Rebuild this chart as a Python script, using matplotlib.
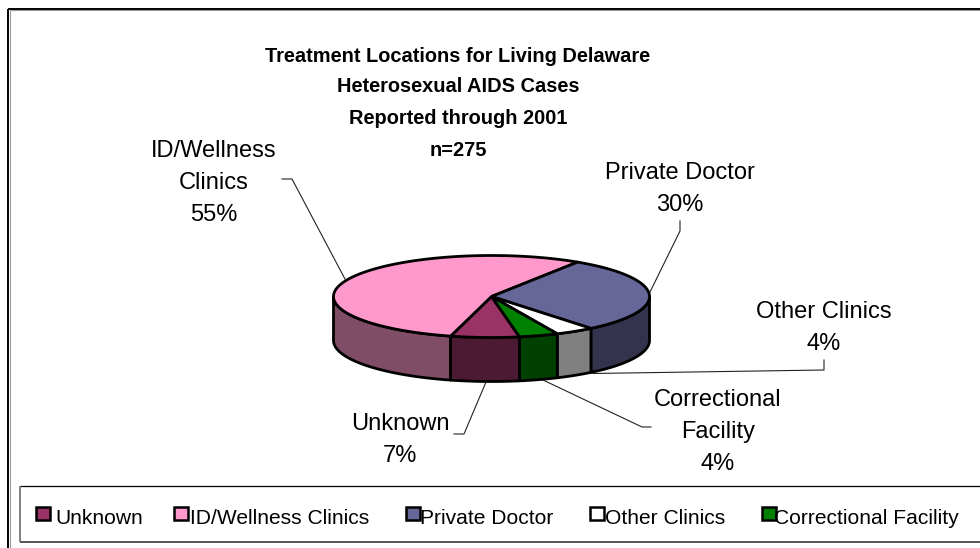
import numpy as np
import matplotlib
matplotlib.use("Agg")
import matplotlib.pyplot as plt
from matplotlib.patches import Polygon, Rectangle

plt.rcParams['font.family'] = ['Liberation Sans', 'DejaVu Sans']

categories = ["Unknown", "ID/Wellness Clinics", "Private Doctor", "Other Clinics", "Correctional Facility"]
values = [7, 55, 30, 4, 4]
top_colors = ["#993366", "#FF99CC", "#666699", "#FFFFFF", "#008000"]
side_colors = ["#4D1A33", "#804D66", "#33334D", "#808080", "#004000"]
title_lines = ["Treatment Locations for Living Delaware", "Heterosexual AIDS Cases", "Reported through 2001", "n=275"]

W, H = 980, 548
fig = plt.figure(figsize=(W / 100, H / 100), dpi=100)
ax = fig.add_axes([0, 0, 1, 1])
ax.set_xlim(0, W)
ax.set_ylim(H, 0)
ax.axis("off")

# Frame
ax.plot([8, 8], [H, 8.5], color="black", lw=1.4, solid_capstyle="butt")
ax.plot([8, W], [8.5, 8.5], color="black", lw=1.4, solid_capstyle="butt")
ax.plot([9.7, 9.7], [H, 10.2], color="#999999", lw=0.8, solid_capstyle="butt")
ax.plot([9.7, W], [10.2, 10.2], color="#999999", lw=0.8, solid_capstyle="butt")

# Pie geometry
cx, cy, a, b, depth = 491.5, 296.5, 158, 41, 44
start = 10.2


def pt(theta, dy=0.0):
    """theta measured clockwise from the bottom of the ellipse, degrees"""
    t = np.radians(theta)
    return np.column_stack([cx - a * np.sin(t), cy + b * np.cos(t) + dy])


fractions = np.array(values) / sum(values) * 360
edges = -start + np.concatenate([[0], np.cumsum(fractions)])

# Side walls (front half only), drawn back to front
order = []
for i in range(len(values)):
    t0, t1 = edges[i], edges[i + 1]
    for shift in (0, -360):
        lo, hi = max(t0 + shift, -90), min(t1 + shift, 90)
        if hi > lo:
            order.append((abs((lo + hi) / 2), i, lo, hi))
for _, i, lo, hi in sorted(order, reverse=True):
    th = np.linspace(lo, hi, 80)
    poly = np.vstack([pt(th), pt(th[::-1], depth)])
    ax.add_patch(Polygon(poly, closed=True, fc=side_colors[i], ec="black", lw=2.0, joinstyle="round", zorder=2))

# Top face
for i in range(len(values)):
    th = np.linspace(edges[i], edges[i + 1], 160)
    poly = np.vstack([[cx, cy], pt(th)])
    ax.add_patch(Polygon(poly, closed=True, fc=top_colors[i], ec="black", lw=2.0, joinstyle="miter", zorder=3))

# Title
for line, y in zip(title_lines, [56, 87, 118, 150]):
    ax.text(458, y, line, ha="center", va="center", fontsize=14.4, fontweight="bold", color="black")

# Data labels
label_fs = 17
labels = [
    ("ID/Wellness\nClinics\n55%", 214, 183),
    ("Private Doctor\n30%", 680, 189),
    ("Other Clinics\n4%", 824, 328),
    ("Correctional\nFacility\n4%", 718, 432),
    ("Unknown\n7%", 400, 440),
]
for txt, x, y in labels:
    ax.text(x, y, txt, ha="center", va="center", fontsize=label_fs, linespacing=1.58, color="black")

# Leader lines
leaders = [
    [(282, 179), (292, 179), (345, 279)],
    [(680, 221), (680, 231), (650, 292)],
    [(824, 360), (824, 370), (593, 373.5)],
    [(651, 427), (642, 427), (543, 380)],
    [(454, 434), (464, 434), (486, 382)],
]
for seg in leaders:
    xs, ys = zip(*seg)
    ax.plot(xs, ys, color="#222222", lw=0.8, zorder=1)

# Legend box
ax.plot([20, W], [486, 486], color="black", lw=0.9, solid_capstyle="butt")
ax.plot([20, 20], [486, 541.5], color="#777777", lw=1.3, solid_capstyle="butt")
ax.plot([20, W], [541.5, 541.5], color="#555555", lw=1.4, solid_capstyle="butt")

legend_x = [36, 174, 406, 590, 762]
legend_text_x = [55, 190, 420, 605, 774]
for i, name in enumerate(categories):
    ax.add_patch(Rectangle((legend_x[i], 506.5), 13.5, 13.5, fc=top_colors[i], ec="black", lw=1.8, zorder=3))
    ax.text(legend_text_x[i], 518.5, name, ha="left", va="center", fontsize=15.1, color="black")

fig.savefig("out.png", dpi=100)
